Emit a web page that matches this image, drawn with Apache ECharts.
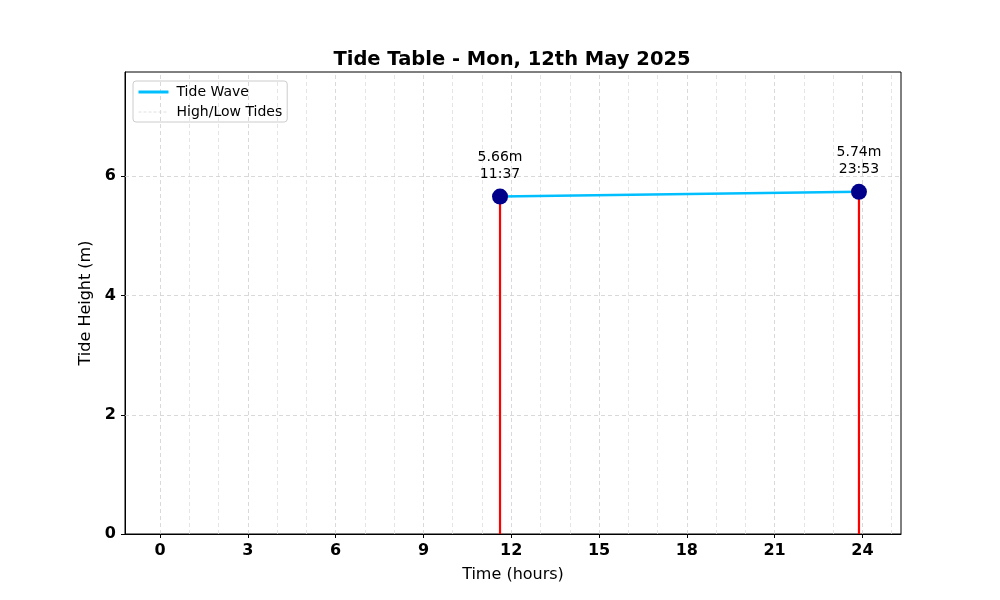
<!DOCTYPE html>
<html><head><meta charset="utf-8">
<script src="https://cdn.jsdelivr.net/npm/echarts@6/dist/echarts.min.js"></script>
<style>html,body{margin:0;padding:0;background:#fff}#c{width:1000px;height:600px}</style>
</head><body><div id="c"></div>
<script>
var tideTimes = ['11:37', '23:53'];
var tideHeights = [5.66, 5.74];
var xTickLabels = [0, 3, 6, 9, 12, 15, 18, 21, 24];
var yTickLabels = [0, 2, 4, 6];
var hourGrid = [0,1,2,3,4,5,6,7,8,9,10,11,12,13,14,15,16,17,18,19,20,21,22,23,24,25];

function toHours(s){ var p = s.split(':'); return +p[0] + (+p[1]) / 60; }
var pts = tideTimes.map(function(t, i){ return [toHours(t), tideHeights[i], t]; });
var stems = [];
pts.forEach(function(p, i){ if (i) stems.push('-'); stems.push([p[0], 0]); stems.push([p[0], p[1]]); });

var F = 'DejaVu Sans';
var chart = echarts.init(document.getElementById('c'));
chart.setOption({
  animation: false,
  textStyle: { fontFamily: F },
  title: { text: 'Tide Table - Mon, 12th May 2025', left: 507, top: 45, textAlign: 'center',
    textStyle: { fontFamily: F, fontSize: 19.5, fontWeight: 'bold', color: '#000' } },
  legend: {
    left: 133, top: 81, orient: 'vertical', itemGap: 6, itemWidth: 30, itemHeight: 14,
    padding: [4, 5, 3, 4], borderColor: '#cccccc', borderWidth: 1, borderRadius: 3,
    textStyle: { fontFamily: F, fontSize: 14, color: '#000', padding: [0, 0, 0, 3] },
    data: [
      { name: 'Tide Wave', itemStyle: { opacity: 0 }, lineStyle: { color: '#00bfff', width: 3 } },
      { name: 'High/Low Tides', itemStyle: { opacity: 0 }, lineStyle: { color: '#d8d8d8', type: [3, 2], width: 0.8 } }
    ]
  },
  grid: { left: 125, right: 99, top: 72, bottom: 66, show: true, borderColor: '#000', borderWidth: 1 },
  xAxis: {
    type: 'value', min: -1.2, max: 25.32,
    name: 'Time (hours)', nameLocation: 'middle', nameGap: 33,
    nameTextStyle: { fontFamily: F, fontSize: 16, color: '#000' },
    axisLine: { onZero: false, lineStyle: { color: '#000' } },
    axisTick: { show: true, customValues: xTickLabels, length: 4, lineStyle: { color: '#000' } },
    axisLabel: { customValues: xTickLabels, fontFamily: F, fontSize: 16, fontWeight: 'bold', color: '#000', margin: 9 },
    splitLine: { show: false }
  },
  yAxis: {
    type: 'value', min: 0, max: 7.75, interval: 2,
    name: 'Tide Height (m)', nameLocation: 'middle', nameGap: 31,
    nameTextStyle: { fontFamily: F, fontSize: 16, color: '#000' },
    axisLine: { show: true, onZero: false, lineStyle: { color: '#000' } },
    axisTick: { show: true, length: 4, lineStyle: { color: '#000' } },
    axisLabel: { showMaxLabel: false, fontFamily: F, fontSize: 16, fontWeight: 'bold', color: '#000', margin: 9,
      formatter: function(v){ return yTickLabels.indexOf(v) >= 0 ? String(v) : ''; } },
    splitLine: { show: false }
  },
  series: [
    {
      type: 'line', name: 'grid', data: [], silent: true, z: 0,
      markLine: { silent: true, symbol: 'none', z: 1, label: { show: false },
        data: hourGrid.map(function(h){
          var major = h % 3 === 0;
          return { xAxis: h, lineStyle: { color: major ? '#cfcfcf' : '#dedede', type: [4, 3], width: 0.8 } };
        }).concat(yTickLabels.filter(function(v){ return v > 0; }).map(function(v){
          return { yAxis: v, lineStyle: { color: '#cfcfcf', type: [4, 3], width: 0.8 } };
        }))
      }
    },
    { type: 'line', name: 'High/Low Tides', data: [], symbol: 'none',
      lineStyle: { color: '#d8d8d8', type: [3, 2], width: 0.8 }, itemStyle: { color: '#d8d8d8' } },
    { type: 'line', name: 'stems', data: stems, connectNulls: false, symbol: 'none', z: 3,
      lineStyle: { color: '#ff0000', width: 2.2 }, itemStyle: { color: '#ff0000' } },
    { type: 'line', name: 'Tide Wave', data: pts.map(function(p){ return [p[0], p[1]]; }), symbol: 'none', z: 4,
      lineStyle: { color: '#00bfff', width: 2.5 }, itemStyle: { color: '#00bfff' } },
    { type: 'scatter', name: 'points', data: pts, symbolSize: 16, z: 10,
      itemStyle: { color: '#00008b', opacity: 1 },
      label: { show: true, position: 'top', distance: 6, fontFamily: F, fontSize: 14, color: '#000', lineHeight: 17, align: 'center',
        formatter: function(p){ return p.value[1].toFixed(2) + 'm\n' + p.value[2]; } } }
  ]
});
</script></body></html>
